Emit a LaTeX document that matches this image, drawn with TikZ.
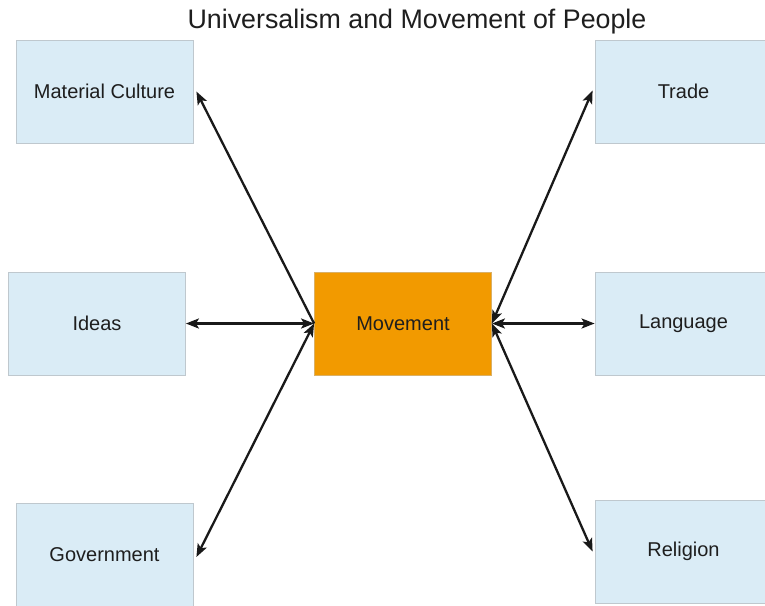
\documentclass[tikz,border=0pt]{standalone}
\usepackage{fontspec}
\setmainfont{Liberation Sans}
\usetikzlibrary{arrows.meta}
\definecolor{boxblue}{HTML}{DAECF6}
\definecolor{boxline}{HTML}{BFC8CE}
\definecolor{moveorange}{HTML}{F29A00}
\definecolor{txt}{HTML}{1E1E1E}
\tikzset{
  topic/.style={draw=boxline, line width=0.8pt, fill=boxblue, minimum width=177pt, minimum height=103pt, inner sep=0pt, text=txt, font=\fontsize{20}{24}\selectfont},
  hub/.style={topic, fill=moveorange, draw=moveorange!80!black!60},
  link/.style={line width=2.3pt, black!90},
  tip/.tip={Stealth[length=13pt,width=10pt,inset=3pt]}
}
\begin{document}
\begin{tikzpicture}[x=1pt,y=-1pt]
\useasboundingbox (0,0) rectangle (765,605);
\clip (0,0) rectangle (765,605);
\node[font=\fontsize{26.8}{30}\selectfont, text=txt, anchor=base] (title) at (417,28) {Universalism and Movement of People};
\node[topic] (mc) at (104.5,91.5) {Material Culture};
\node[topic] (ideas) at (97,323.5) {Ideas};
\node[topic] (gov) at (104.5,555) {Government};
\node[topic] (trade) at (683.5,91.5) {Trade};
\node[topic] (lang) at (683.5,323.5) {Language};
\node[topic] (rel) at (683.5,551.5) {Religion};
\node[hub] (move) at (403,323.5) {Movement};
\draw[link, -tip] (move.west) -- ([xshift=3pt]mc.east);
\draw[link, tip-tip] (move.west) -- (ideas.east);
\draw[link, tip-tip] (move.west) -- ([xshift=3pt,yshift=-2pt]gov.east);
\draw[link, tip-tip] (move.east) -- ([xshift=-2pt,yshift=1pt]trade.west);
\draw[link, tip-tip] (move.east) -- (lang.west);
\draw[link, tip-tip] (move.east) -- ([xshift=-2pt]rel.west);
\end{tikzpicture}
\end{document}
